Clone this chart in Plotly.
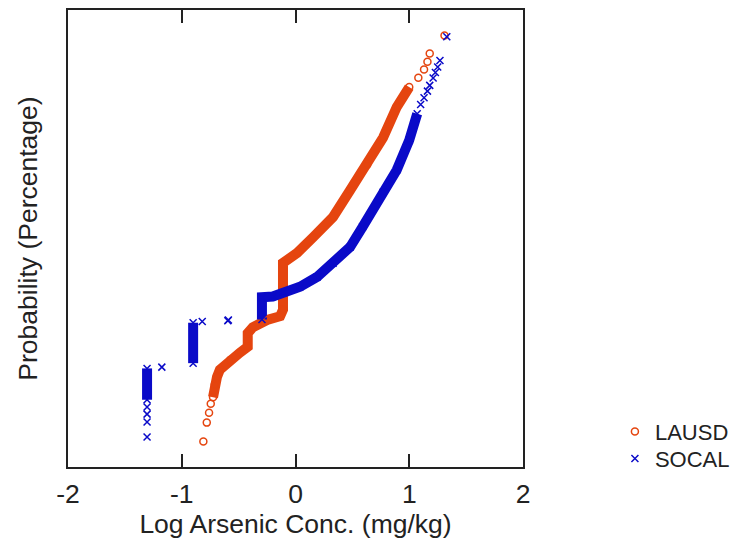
import plotly.graph_objects as go
from statistics import NormalDist

# ---- data (log10 arsenic conc., cumulative probability %) ----
lausd_x = [-0.81, -0.78, -0.76, -0.745, -0.725, -0.71, -0.69, -0.665, -0.575, -0.49,
           -0.42, -0.42, -0.375, -0.25, -0.135, -0.11, -0.11, 0.015, 0.155, 0.33,
           0.48, 0.63, 0.77, 0.89, 1.0, 1.08, 1.13, 1.16, 1.18, 1.31]
lausd_p = [0.094, 0.24, 0.38, 0.57, 0.75, 1.25, 1.7, 2.22, 3.14, 4.0,
           4.85, 7.35, 8.7, 10.6, 11.7, 13.8, 35.4, 41.3, 50.8, 62.9,
           77.0, 87.1, 93.9, 97.8, 98.98, 99.31, 99.52, 99.66, 99.77, 99.906]

socal_x = [-1.305, -1.305, -1.305, -1.305, -1.305, -1.305, -1.175, -0.90, -0.90, -0.82,
           -0.595, -0.59, -0.295, -0.295, -0.20, -0.11, 0.04, 0.19, 0.33, 0.48,
           0.59, 0.77, 0.89, 1.0, 1.07, 1.10, 1.13, 1.16, 1.18, 1.21, 1.23, 1.25, 1.27, 1.33]
socal_p = [0.118, 0.248, 0.357, 0.494, 0.676, 2.33, 2.44, 2.81, 9.85, 10.2,
           10.4, 10.6, 10.75, 18.4, 18.7, 20.3, 23.0, 27.8, 35.2, 44.8,
           57.1, 76.1, 85.3, 93.4, 97.2, 98.0, 98.45, 98.8, 99.05, 99.3, 99.45, 99.57, 99.68, 99.90]

x_ticks = [-2, -1, 0, 1, 2]

# index ranges of the densely packed stretches (drawn as solid bands)
lausd_dense = [(4, 24)]
socal_dense = [(4, 5), (7, 8), (12, 24)]

ORANGE = "#E5450F"
BLUE = "#0A0AC8"
TXT = "#222222"
FONT = "Liberation Sans, Arial, sans-serif"
FS = 26.5
LFS = 22

nd = NormalDist()
def probit(pcts):
    return [nd.inv_cdf(p / 100.0) for p in pcts]

lausd_z = probit(lausd_p)
socal_z = probit(socal_p)

def band(xs, zs, ranges):
    bx, bz = [], []
    for a, b in ranges:
        bx += xs[a:b + 1] + [None]
        bz += zs[a:b + 1] + [None]
    return bx, bz

fig = go.Figure()

bx, bz = band(lausd_x, lausd_z, lausd_dense)
fig.add_trace(go.Scatter(x=bx, y=bz, mode="lines", showlegend=False, hoverinfo="skip",
                         line=dict(color=ORANGE, width=10)))
bx, bz = band(socal_x, socal_z, socal_dense)
fig.add_trace(go.Scatter(x=bx, y=bz, mode="lines", showlegend=False, hoverinfo="skip",
                         line=dict(color=BLUE, width=10)))

fig.add_trace(go.Scatter(x=lausd_x, y=lausd_z, mode="markers", name="LAUSD", legend="legend",
                         marker=dict(symbol="circle-open", size=7, color=ORANGE,
                                     line=dict(width=1.5, color=ORANGE))))
fig.add_trace(go.Scatter(x=socal_x, y=socal_z, mode="markers", name="SOCAL", legend="legend2",
                         marker=dict(symbol="x-thin-open", size=7, color=BLUE,
                                     line=dict(width=1.5, color=BLUE))))

leg_common = dict(xanchor="left", yanchor="middle", font=dict(size=LFS, family=FONT, color=TXT),
                  bgcolor="rgba(0,0,0,0)", borderwidth=0, itemwidth=30)
fig.update_layout(
    width=750, height=542,
    margin=dict(l=68, r=227, t=10, b=75, autoexpand=False),
    paper_bgcolor="white", plot_bgcolor="white",
    font=dict(family=FONT, color=TXT),
    showlegend=True,
    legend=dict(x=1.202, y=0.077, **leg_common),
    legend2=dict(x=1.202, y=0.018, **leg_common),
)
fig.update_xaxes(
    range=[-2, 2], tickvals=x_ticks, ticktext=[str(t) for t in x_ticks],
    ticks="inside", ticklen=13, tickwidth=1.5, tickcolor=TXT,
    showline=True, linecolor=TXT, linewidth=1.5, mirror="ticks",
    showgrid=False, zeroline=False, automargin=False, ticklabelstandoff=2,
    tickfont=dict(size=FS, family=FONT, color=TXT),
    title=dict(text="Log Arsenic Conc. (mg/kg)", font=dict(size=FS, family=FONT, color=TXT),
               standoff=7),
)
fig.update_yaxes(
    range=[-3.5, 3.5], showticklabels=False, ticks="",
    showline=True, linecolor=TXT, linewidth=1.5, mirror=True,
    showgrid=False, zeroline=False, automargin=False,
    title=dict(text="Probability (Percentage)", font=dict(size=FS, family=FONT, color=TXT),
               standoff=21),
)

fig.write_html("out.html", config={"displayModeBar": False},
               post_script="document.body.style.margin='0';")
